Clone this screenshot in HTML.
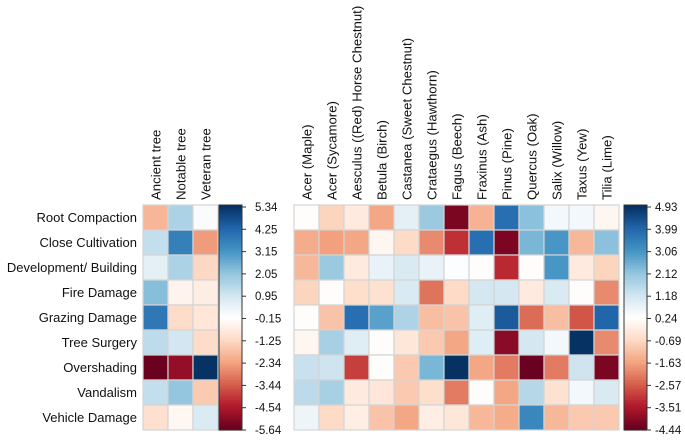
<!DOCTYPE html>
<html><head><meta charset="utf-8"><style>
body{margin:0;background:#fff;}
svg text{font-family:"Liberation Sans",Arial,sans-serif;fill:#111;}
</style></head><body>
<svg id="chart" width="685" height="436"></svg>
<script>
const rowLabels=["Root Compaction","Close Cultivation","Development/ Building","Fire Damage","Grazing Damage","Tree Surgery","Overshading","Vandalism","Vehicle Damage"];
const leftCols=["Ancient tree","Notable tree","Veteran tree"];
const rightCols=["Acer (Maple)","Acer (Sycamore)","Aesculus ((Red) Horse Chestnut)","Betula (Birch)","Castanea (Sweet Chestnut)","Crataegus (Hawthorn)","Fagus (Beech)","Fraxinus (Ash)","Pinus (Pine)","Quercus (Oak)","Salix (Willow)","Taxus (Yew)","Tilia (Lime)"];
const leftValues=[
[-2.0,1.6,0.0],[1.2,3.6,-2.5],[0.5,1.6,-1.3],[2.2,-0.5,-0.7],[3.8,-1.2,-0.9],
[1.3,0.9,-1.2],[-5.6,-5.0,5.3],[1.2,2.0,-1.6],[-1.1,-0.4,0.7]];
const rightValues=[
[0.2,-0.8,-0.3,-1.6,0.8,2.0,-4.2,-1.4,3.8,2.2,0.5,0.5,0.0],
[-1.5,-1.7,-1.6,0.0,-0.7,-2.0,-3.2,3.8,-4.2,2.4,3.0,-1.3,2.2],
[-1.3,2.0,-0.3,0.7,1.0,0.7,0.3,0.2,-3.3,0.2,3.0,-0.3,-0.8],
[-0.8,0.2,-0.6,-0.5,1.0,-2.3,-0.7,1.1,1.1,-0.3,1.0,0.2,-2.0],
[0.2,-1.1,3.8,2.8,1.7,-1.2,-1.1,0.9,4.2,-2.4,-1.2,-2.7,4.0],
[0.0,1.8,0.9,0.2,-0.4,-1.0,-1.6,0.9,-4.0,1.1,0.5,4.9,-2.0],
[1.3,1.2,-3.0,0.2,-1.0,2.4,4.9,-1.6,-2.2,-4.4,-2.2,1.2,-4.2],
[1.5,1.8,-0.3,-0.4,-1.0,-0.6,-2.2,0.2,-1.6,1.6,-0.5,0.5,1.0],
[0.6,-0.7,-0.2,-1.1,-1.6,-0.2,-0.4,-1.3,-1.5,3.3,-1.3,-1.0,-1.0]];
const leftTicks=["5.34","4.25","3.15","2.05","0.95","-0.15","-1.25","-2.34","-3.44","-4.54","-5.64"];
const rightTicks=["4.93","3.99","3.06","2.12","1.18","0.24","-0.69","-1.63","-2.57","-3.51","-4.44"];

const NS="http://www.w3.org/2000/svg";
const svg=document.getElementById('chart');
const pal=["#67001f","#b2182b","#d6604d","#f4a582","#fddbc7","#ffffff","#d1e5f0","#92c5de","#4393c3","#2166ac","#053061"];
function hex(h){return [1,3,5].map(i=>parseInt(h.substr(i,2),16));}
function color(t){t=Math.max(0,Math.min(1,t));const p=t*10,i=Math.min(9,Math.floor(p)),f=p-i;const a=hex(pal[i]),b=hex(pal[i+1]);return "rgb("+a.map((v,k)=>Math.round(v+(b[k]-v)*f)).join(",")+")";}
function el(tag,attrs,parent){const e=document.createElementNS(NS,tag);for(const k in attrs)e.setAttribute(k,attrs[k]);(parent||svg).appendChild(e);return e;}
const top0=205,cell=25;
function yScale(r){return top0+r*cell;}
function drawMatrix(name,x0,cols,vals,min,max,cbx,ticks,tickOff){
  const g=el('g',{});
  
  
  vals.forEach((row,r)=>row.forEach((v,c)=>{
    const rc=el('rect',{x:x0+c*cell,y:yScale(r),width:cell,height:cell,fill:color((v-min)/(max-min)),stroke:'#d4d4d4','stroke-width':1.2},g);
    
    
  }));
  cols.forEach((lab,c)=>{
    const cx=x0+c*cell+cell/2+5;
    const t=el('text',{x:0,y:0,transform:`translate(${cx},${200}) rotate(-90)`,'font-size':13.2},g);
    t.textContent=lab;
    
    
  });
  const gb=el('g',{});
  
  
  const h=9*cell,N=90;
  for(let i=0;i<N;i++){el('rect',{x:cbx,y:top0+i*h/N,width:23,height:h/N+0.6,fill:color(1-i/(N-1))},gb);}
  el('rect',{x:cbx,y:top0,width:23,height:h,fill:'none',stroke:'#333','stroke-width':1},gb);
  ticks.forEach((tk,i)=>{
    const y=top0+2+i*(h-2)/(ticks.length-1);
    el('line',{x1:cbx+23,x2:cbx+27,y1:y,y2:y,stroke:'#333'},gb);
    const t=el('text',{x:cbx+tickOff,y:y+4,'font-size':11.5},gb);
    t.textContent=tk;
    
    
  });
}
rowLabels.forEach((lab,r)=>{
  const t=el('text',{x:137,y:yScale(r)+17,'text-anchor':'end','font-size':13});
  t.textContent=lab;
  
  
});
drawMatrix('tree-status-heatmap',143,leftCols,leftValues,-5.64,5.34,219,leftTicks,36);
drawMatrix('tree-genus-heatmap',294,rightCols,rightValues,-4.44,4.93,624,rightTicks,31);
</script>
</body></html>
